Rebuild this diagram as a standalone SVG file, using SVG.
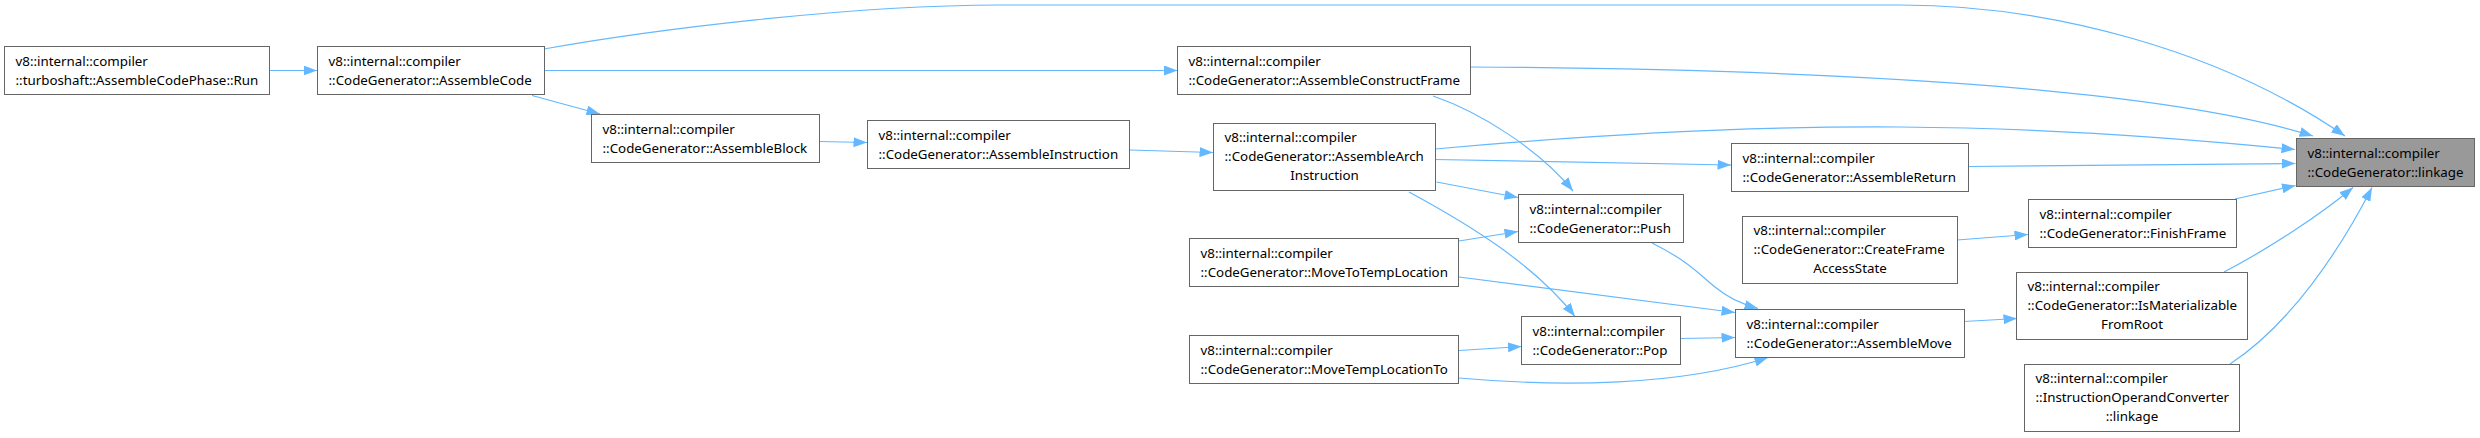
<svg xmlns="http://www.w3.org/2000/svg" width="2480" height="438" viewBox="0 0 2480 438">
<defs>
<marker id="ah" viewBox="0 0 13.5 10" refX="13.5" refY="5" markerWidth="13.5" markerHeight="10" markerUnits="userSpaceOnUse" orient="auto">
<path d="M0,0 L13.5,5 L0,10 z" fill="#63b8ff"/>
</marker>
<style>
.n rect{fill:#ffffff;stroke:#666666;stroke-width:1}
.n.h rect{fill:#999999}
.n text{font-family:"Noto Sans","Open Sans","DejaVu Sans",sans-serif;font-size:13.33px;fill:#000000}
.c{text-anchor:middle}
#edges path{fill:none;stroke:#63b8ff;stroke-width:1.2;marker-end:url(#ah)}
</style>
</defs>
<rect width="2480" height="438" fill="#ffffff"/>
<g id="edges">
<path d="M270,70.5 L317,70.5"/>
<path d="M544.5,70.5 L1177.5,70.5"/>
<path d="M532,95.5 L600,114"/>
<path d="M544,49 C650,30 850,5 1000,5 L1900,5 C2050,5 2220,50 2345,136"/>
<path d="M1471,67 C1800,69 2150,85 2313,136"/>
<path d="M1433,96 C1480,112 1540,150 1573,191"/>
<path d="M819,141.5 L867,142.5"/>
<path d="M1130,150 L1213,152.5"/>
<path d="M1435,149 C1600,134 1750,126 1900,127 C2050,128 2200,140 2295,149.5"/>
<path d="M1435,159.5 L1731,165"/>
<path d="M1436.5,182 L1518,197.5"/>
<path d="M1409,192 C1470,225 1535,265 1575,316.5"/>
<path d="M1969,166.5 L2295.5,163.5"/>
<path d="M1652,243 C1690,262 1700,275 1715,287 C1728,298 1745,305 1758,308.5"/>
<path d="M1459,241 L1518,231.5"/>
<path d="M1459,277 L1735,312.5"/>
<path d="M1957,240 L2028,234.5"/>
<path d="M2235,199 L2295.5,185.5"/>
<path d="M1680,338.5 L1735,337.5"/>
<path d="M1459,350.5 L1521.5,346.5"/>
<path d="M1459,378 C1560,387 1680,386 1768,357.5"/>
<path d="M1964,321.5 L2017,318.5"/>
<path d="M2224,272 C2270,248 2320,215 2353,187.5"/>
<path d="M2230,364 C2290,325 2340,250 2372,187.5"/>
</g>
<g id="n_run" class="n"><rect x="4.5" y="46.5" width="265" height="48"/><text x="15.5" y="65.5">v8::internal::compiler</text><text x="15.5" y="84.5">::turboshaft::AssembleCodePhase::Run</text></g>
<g id="n_assemblecode" class="n"><rect x="317.5" y="46.5" width="227" height="48"/><text x="328.5" y="65.5">v8::internal::compiler</text><text x="328.5" y="84.5">::CodeGenerator::AssembleCode</text></g>
<g id="n_constructframe" class="n"><rect x="1177.5" y="46.5" width="293" height="48"/><text x="1188.5" y="65.5">v8::internal::compiler</text><text x="1188.5" y="84.5">::CodeGenerator::AssembleConstructFrame</text></g>
<g id="n_block" class="n"><rect x="591.5" y="114.5" width="228" height="48"/><text x="602.5" y="133.5">v8::internal::compiler</text><text x="602.5" y="152.5">::CodeGenerator::AssembleBlock</text></g>
<g id="n_instruction" class="n"><rect x="867.5" y="120.5" width="262" height="48"/><text x="878.5" y="139.5">v8::internal::compiler</text><text x="878.5" y="158.5">::CodeGenerator::AssembleInstruction</text></g>
<g id="n_arch" class="n"><rect x="1213.5" y="123.5" width="222" height="67"/><text x="1224.5" y="141.5">v8::internal::compiler</text><text x="1224.5" y="160.5">::CodeGenerator::AssembleArch</text><text class="c" x="1324.5" y="179.5">Instruction</text></g>
<g id="n_push" class="n"><rect x="1518.5" y="194.5" width="165" height="48"/><text x="1529.5" y="213.5">v8::internal::compiler</text><text x="1529.5" y="232.5">::CodeGenerator::Push</text></g>
<g id="n_return" class="n"><rect x="1731.5" y="143.5" width="237" height="48"/><text x="1742.5" y="162.5">v8::internal::compiler</text><text x="1742.5" y="181.5">::CodeGenerator::AssembleReturn</text></g>
<g id="n_movetotemp" class="n"><rect x="1189.5" y="238.5" width="269" height="48"/><text x="1200.5" y="257.5">v8::internal::compiler</text><text x="1200.5" y="276.5">::CodeGenerator::MoveToTempLocation</text></g>
<g id="n_createframe" class="n"><rect x="1742.5" y="216.5" width="215" height="67"/><text x="1753.5" y="234.5">v8::internal::compiler</text><text x="1753.5" y="253.5">::CodeGenerator::CreateFrame</text><text class="c" x="1850" y="272.5">AccessState</text></g>
<g id="n_pop" class="n"><rect x="1521.5" y="316.5" width="159" height="48"/><text x="1532.5" y="335.5">v8::internal::compiler</text><text x="1532.5" y="354.5">::CodeGenerator::Pop</text></g>
<g id="n_movetempto" class="n"><rect x="1189.5" y="335.5" width="269" height="48"/><text x="1200.5" y="354.5">v8::internal::compiler</text><text x="1200.5" y="373.5">::CodeGenerator::MoveTempLocationTo</text></g>
<g id="n_move" class="n"><rect x="1735.5" y="309.5" width="229" height="48"/><text x="1746.5" y="328.5">v8::internal::compiler</text><text x="1746.5" y="347.5">::CodeGenerator::AssembleMove</text></g>
<g id="n_linkage" class="n h"><rect x="2296.5" y="138.5" width="178" height="48"/><text x="2307.5" y="157.5">v8::internal::compiler</text><text x="2307.5" y="176.5">::CodeGenerator::linkage</text></g>
<g id="n_finishframe" class="n"><rect x="2028.5" y="199.5" width="208" height="48"/><text x="2039.5" y="218.5">v8::internal::compiler</text><text x="2039.5" y="237.5">::CodeGenerator::FinishFrame</text></g>
<g id="n_ismat" class="n"><rect x="2016.5" y="272.5" width="231" height="67"/><text x="2027.5" y="290.5">v8::internal::compiler</text><text x="2027.5" y="309.5">::CodeGenerator::IsMaterializable</text><text class="c" x="2132" y="328.5">FromRoot</text></g>
<g id="n_converter" class="n"><rect x="2024.5" y="364.5" width="215" height="67"/><text x="2035.5" y="382.5">v8::internal::compiler</text><text x="2035.5" y="401.5">::InstructionOperandConverter</text><text class="c" x="2132" y="420.5">::linkage</text></g>
</svg>
